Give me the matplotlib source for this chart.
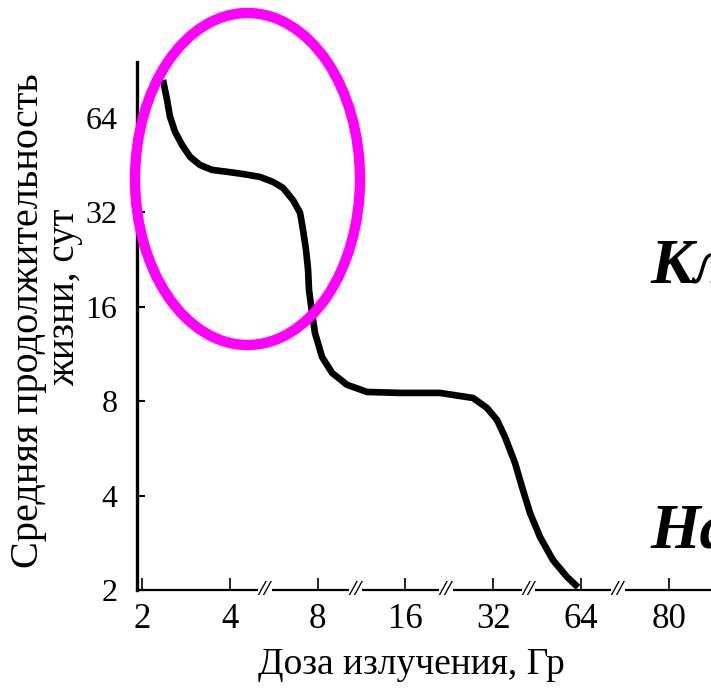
import matplotlib
matplotlib.use("Agg")
import matplotlib.pyplot as plt
from matplotlib.patches import Ellipse
import numpy as np

# Dose axis is drawn with equal spacing per category (with axis breaks)
dose_labels = ["2", "4", "8", "16", "32", "64", "80"]
dose_pos = np.arange(len(dose_labels))
days_ticks = [2, 4, 8, 16, 32, 64]

# Curve: x in dose-category units, y in days
curve_x = [0.239, 0.285, 0.319, 0.376, 0.456, 0.547, 0.661, 0.797, 0.968, 1.150,
           1.344, 1.492, 1.606, 1.720, 1.800, 1.834, 1.868, 1.891, 1.902, 1.936,
           1.970, 2.050, 2.164, 2.335, 2.563, 2.938, 3.394, 3.770, 3.929, 4.043,
           4.134, 4.248, 4.328, 4.419, 4.533, 4.681, 4.841, 4.966]
curve_days = [84.6, 73.1, 64.5, 57.8, 52.5, 48.1, 45.3, 43.7, 43.1, 42.4,
              41.5, 40.0, 38.3, 35.0, 31.9, 28.1, 24.3, 21.0, 18.1, 15.3,
              13.2, 11.07, 9.85, 9.02, 8.56, 8.50, 8.50, 8.19, 7.61, 6.97,
              6.15, 5.08, 4.26, 3.52, 2.95, 2.49, 2.20, 2.04]

break_pos = [1.40, 2.43, 3.46, 4.40, 5.42]

plt.rcParams['font.family'] = ['Liberation Serif', 'DejaVu Serif']

fig = plt.figure(figsize=(7.11, 6.91), dpi=100)
ax = fig.add_axes([137 / 711, 101 / 691, 574 / 711, 528 / 691])

ax.plot(curve_x, curve_days, color='black', linewidth=4.8,
        solid_capstyle='butt', solid_joinstyle='round')

ax.set_yscale('log', base=2)
ax.set_ylim(2, 96.5)
ax.set_xlim(-0.057, 6.48)

ax.set_yticks(days_ticks)
ax.set_yticklabels([str(v) for v in days_ticks], fontsize=23)
ax.yaxis.set_minor_locator(matplotlib.ticker.NullLocator())
ax.set_xticks(dose_pos)
ax.set_xticklabels(dose_labels, fontsize=25)

ax.tick_params(axis='y', direction='in', length=6, width=1.5, pad=14)
ax.tick_params(axis='x', direction='in', length=9, width=1.2, pad=9)

for side in ['top', 'right']:
    ax.spines[side].set_visible(False)
ax.spines['left'].set_linewidth(2.4)
ax.spines['bottom'].set_linewidth(1.6)

# axis break marks
for b in break_pos:
    ax.text(b, 2, "//", ha='center', va='center', fontsize=16, style='italic',
            fontweight='bold', clip_on=False,
            bbox=dict(facecolor='white', edgecolor='none', pad=0.5))

fig.text(411 / 711, 1 - 665 / 691, "Доза излучения, Гр", ha='center', va='center',
         fontsize=27)
fig.text(29 / 711, 1 - 321 / 691, "Средняя продолжительность", rotation=90,
         ha='center', va='center', fontsize=29)
fig.text(65 / 711, 1 - 297 / 691, "жизни, сут", rotation=90,
         ha='center', va='center', fontsize=28)

# cut-off bold italic words on the right
fig.text(650 / 711, 1 - 282 / 691, "Кл", ha='left', va='baseline', fontsize=46,
         fontweight='bold', style='italic')
fig.text(650 / 711, 1 - 547 / 691, "На", ha='left', va='baseline', fontsize=46,
         fontweight='bold', style='italic')

ell = Ellipse((247.5 / 711, 1 - 179 / 691), 225 / 711, 332 / 691,
              transform=fig.transFigure, fill=False, edgecolor='#ff00ff',
              linewidth=7.5)
fig.add_artist(ell)

fig.savefig("out.png", dpi=100, facecolor='white')
